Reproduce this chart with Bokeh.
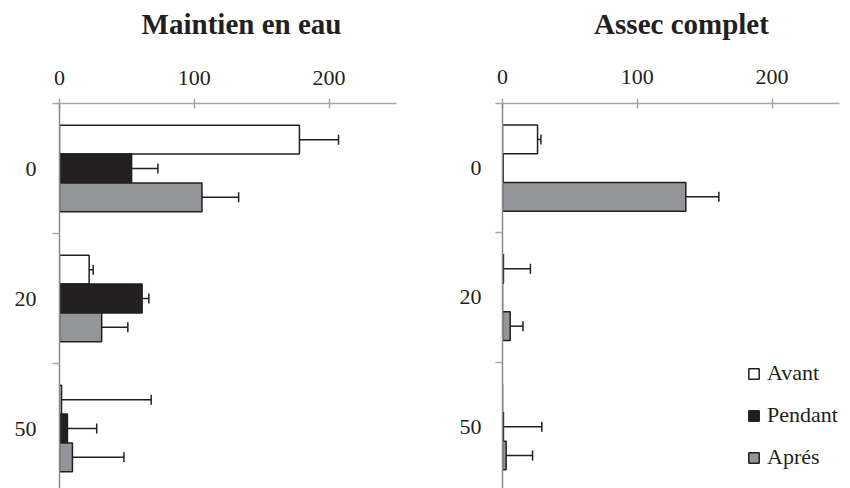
from bokeh.plotting import figure
from bokeh.layouts import row, column
from bokeh.models import (Range1d, FixedTicker, LinearAxis, ColumnDataSource,
                          Whisker, TeeHead, Legend, LegendItem)
from bokeh.core.properties import value
from bokeh.embed import file_html
from bokeh.resources import INLINE

# ---------------- data ----------------
categories = ["0", "20", "50"]
series = ["Avant", "Pendant", "Aprés"]
x_ticks = [0, 100, 200]
panel_titles = ["Maintien en eau", "Assec complet"]

maintien_avant = [178, 22, 1.5]
maintien_avant_err = [29, 3, 66.5]
maintien_pendant = [53.5, 61.3, 5.9]
maintien_pendant_err = [19.5, 5, 21.7]
maintien_apres = [105.7, 31.3, 9.6]
maintien_apres_err = [27.2, 19.4, 38.2]

assec_avant = [26, 0.7, 0]
assec_avant_err = [2.5, 20, 0]
assec_pendant = [0.5, 0, 0.7]
assec_pendant_err = [0, 0, 28.5]
assec_apres = [136, 5.7, 2.7]
assec_apres_err = [24.5, 9.5, 19.6]

# ---------------- style ----------------
FONT = "Liberation Serif"
INK = "#231f20"
FILLS = {"Avant": "#ffffff", "Pendant": "#231f20", "Aprés": "#939598"}
OFFSETS = {"Avant": -0.222, "Pendant": 0.0, "Aprés": 0.222}
BAR_H = 0.222
TITLE_H = 50
MAIN_H = 488 - TITLE_H


def make_title(text, width, center_x, baseline_from_top):
    t = figure(width=width, height=TITLE_H, output_backend="svg", toolbar_location=None,
               title=None,
               x_range=Range1d(0, width), y_range=Range1d(0, TITLE_H),
               x_axis_location=None, y_axis_location=None,
               min_border=0, min_border_left=0, min_border_right=0,
               min_border_top=0, min_border_bottom=0)
    t.outline_line_color = None
    t.xgrid.visible = False
    t.ygrid.visible = False
    t.text(x=[center_x], y=[TITLE_H - baseline_from_top], text=[text],
           text_align="center", text_baseline="alphabetic",
           text_font=value(FONT), text_font_style="bold", text_font_size="29px",
           text_color=INK)
    return t


def make_panel(values, errs, width, b_left, b_right, frame_top, px_per_cat,
               tick_standoff, ylab_standoff, with_legend=False):
    y_end = (488 - frame_top) / px_per_cat
    p = figure(width=width, height=MAIN_H, output_backend="svg", toolbar_location=None,
               title=None,
               x_range=Range1d(0, 250), y_range=Range1d(y_end, 0),
               x_axis_location=None, y_axis_location=None,
               min_border_left=b_left, min_border_right=b_right,
               min_border_top=frame_top - TITLE_H, min_border_bottom=0)
    p.outline_line_color = None
    p.xgrid.visible = False
    p.ygrid.visible = False
    p.background_fill_color = "white"

    xaxis = LinearAxis(ticker=FixedTicker(ticks=x_ticks, minor_ticks=[]))
    xaxis.major_tick_in = 5
    xaxis.major_tick_out = 5
    xaxis.axis_line_color = "#a6a6a6"
    xaxis.axis_line_width = 1.5
    xaxis.major_tick_line_color = "#a6a6a6"
    xaxis.major_tick_line_width = 1.5
    xaxis.major_label_text_font = FONT
    xaxis.major_label_text_font_size = "22px"
    xaxis.major_label_text_color = INK
    xaxis.major_label_standoff = tick_standoff
    p.add_layout(xaxis, "above")

    centers = [i + 0.5 for i in range(len(categories))]
    yaxis = LinearAxis(ticker=FixedTicker(ticks=centers,
                                          minor_ticks=list(range(len(categories) + 1))))
    yaxis.major_label_overrides = {c: lab for c, lab in zip(centers, categories)}
    yaxis.major_tick_in = 0
    yaxis.major_tick_out = 0
    yaxis.minor_tick_in = 0
    yaxis.minor_tick_out = 7
    yaxis.minor_tick_line_color = "#a6a6a6"
    yaxis.minor_tick_line_width = 1.5
    yaxis.axis_line_color = "#8c8c8c"
    yaxis.axis_line_width = 1.5
    yaxis.major_label_text_font = FONT
    yaxis.major_label_text_font_size = "22px"
    yaxis.major_label_text_color = INK
    yaxis.major_label_standoff = ylab_standoff
    p.add_layout(yaxis, "left")

    renderers = {}
    for s in series:
        ys = [c + OFFSETS[s] for c in centers]
        vals = values[s]
        er = errs[s]
        src = ColumnDataSource(dict(y=ys, v=vals))
        r = p.hbar(y="y", left=0, right="v", height=BAR_H, source=src,
                   fill_color=FILLS[s], line_color=INK, line_width=1.5)
        renderers[s] = r

        full = dict(y=[], lo=[], hi=[])
        clamp = dict(y=[], lo=[], hi=[])
        for y, v, e in zip(ys, vals, er):
            if e <= 0:
                continue
            if v - e >= 0:
                full["y"].append(y); full["lo"].append(v - e); full["hi"].append(v + e)
            else:
                clamp["y"].append(y); clamp["lo"].append(0); clamp["hi"].append(v + e)
        if full["y"]:
            p.add_layout(Whisker(source=ColumnDataSource(full), base="y", lower="lo",
                                 upper="hi", dimension="width", line_color=INK, line_width=1.5,
                                 lower_head=TeeHead(size=10, line_color=INK, line_width=1.5),
                                 upper_head=TeeHead(size=10, line_color=INK, line_width=1.5)))
        if clamp["y"]:
            p.add_layout(Whisker(source=ColumnDataSource(clamp), base="y", lower="lo",
                                 upper="hi", dimension="width", line_color=INK, line_width=1.5,
                                 lower_head=None,
                                 upper_head=TeeHead(size=10, line_color=INK, line_width=1.5)))

    if with_legend:
        legend = Legend(items=[LegendItem(label=s, renderers=[renderers[s]]) for s in series],
                        location=(245, 18))
        legend.border_line_color = None
        legend.background_fill_alpha = 0
        legend.padding = 0
        legend.margin = 0
        legend.spacing = 16
        legend.glyph_width = 13
        legend.glyph_height = 13
        legend.label_standoff = 7
        legend.label_height = 26
        legend.label_text_font = FONT
        legend.label_text_font_size = "22px"
        legend.label_text_color = INK
        p.add_layout(legend)
    return p


title_left = make_title(panel_titles[0], 420, 241, 23)
title_right = make_title(panel_titles[1], 430, 261, 23)

left = make_panel(
    {"Avant": maintien_avant, "Pendant": maintien_pendant, "Aprés": maintien_apres},
    {"Avant": maintien_avant_err, "Pendant": maintien_pendant_err, "Aprés": maintien_apres_err},
    width=420, b_left=59, b_right=24, frame_top=103, px_per_cat=130,
    tick_standoff=14, ylab_standoff=16)

right = make_panel(
    {"Avant": assec_avant, "Pendant": assec_pendant, "Aprés": assec_apres},
    {"Avant": assec_avant_err, "Pendant": assec_pendant_err, "Aprés": assec_apres_err},
    width=430, b_left=82, b_right=11, frame_top=98, px_per_cat=131,
    tick_standoff=15, ylab_standoff=14, with_legend=True)

layout = column(row(title_left, title_right, spacing=0), row(left, right, spacing=0), spacing=0)
open("out.html", "w").write(file_html(layout, INLINE))
